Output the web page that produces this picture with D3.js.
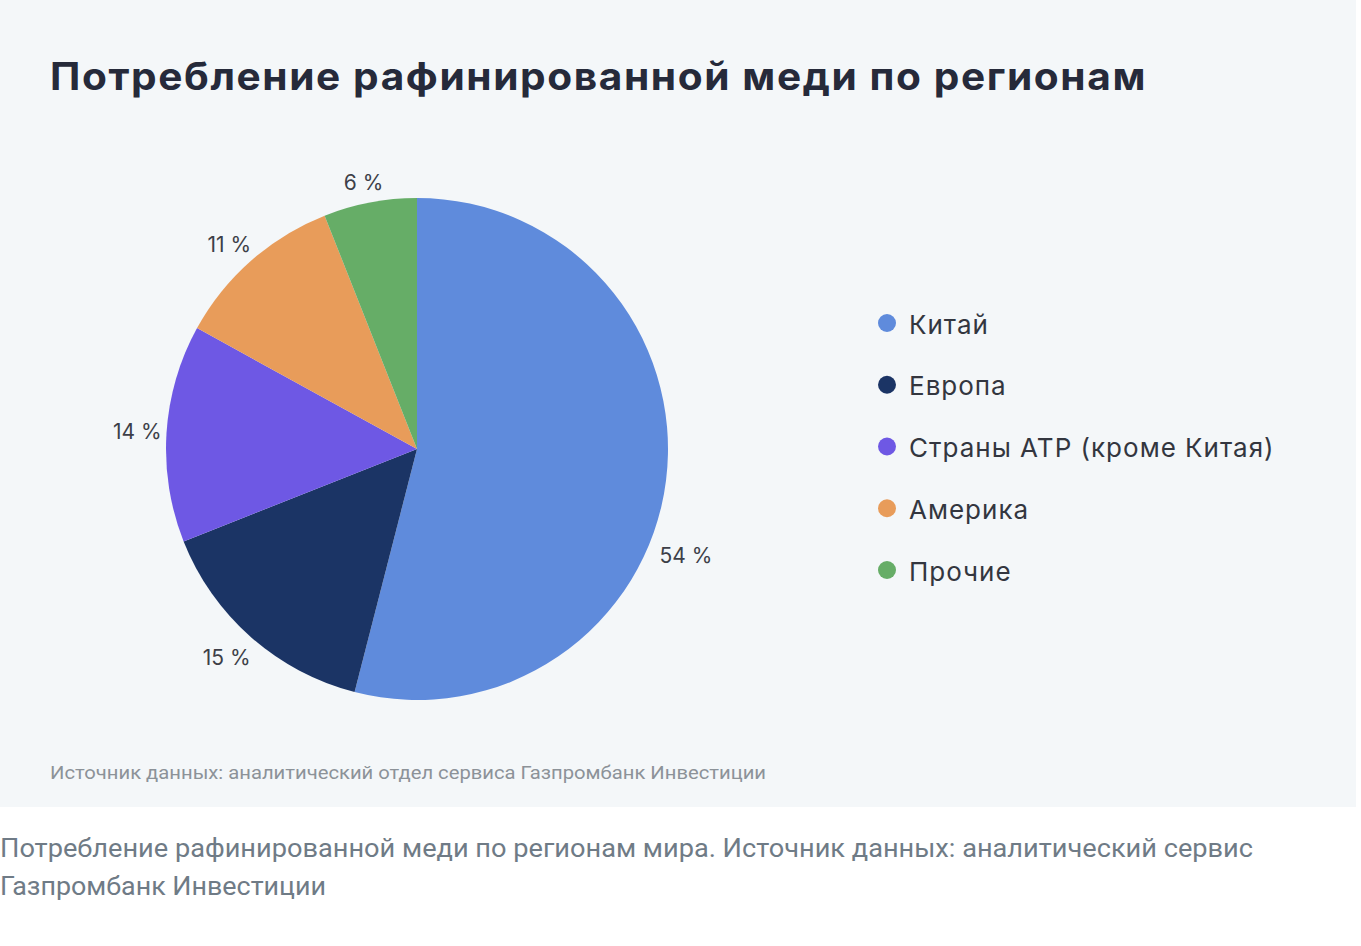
<!DOCTYPE html>
<html><head><meta charset="utf-8">
<script src="https://cdn.jsdelivr.net/npm/d3@7"></script>
<style>html,body{margin:0;padding:0;background:#fff;}svg{display:block;}</style>
</head><body>
<svg id="chart" width="1361" height="946"></svg>
<script>
const categories = ["Китай", "Европа", "Страны АТР (кроме Китая)", "Америка", "Прочие"];
const values = [54, 15, 14, 11, 6];
const colors = ["#5f8bdc", "#1b3465", "#6e58e4", "#e89c5a", "#66ad67"];
const title = "Потребление рафинированной меди по регионам";
const source = "Источник данных: аналитический отдел сервиса Газпромбанк Инвестиции";
const captionLines = ["Потребление рафинированной меди по регионам мира. Источник данных: аналитический сервис", "Газпромбанк Инвестиции"];

const svg = d3.select("#chart");
const font = "Inter, 'Noto Sans', sans-serif";

svg.append("rect").attr("x", 0).attr("y", 0).attr("width", 1356).attr("height", 807).attr("fill", "#f4f7f9");

function fit(sel, w, mode) {
  const n = sel.node();
  const cur = n.getComputedTextLength();
  if (cur > 0) sel.attr("textLength", w).attr("lengthAdjust", mode || "spacingAndGlyphs");
}

const t = svg.append("text").attr("x", 50).attr("y", 90).attr("font-family", font)
  .attr("font-weight", 700).attr("font-size", 38).attr("letter-spacing", 1.5).attr("fill", "#262a3a").text(title);
fit(t, 1097, "spacingAndGlyphs");

const cx = 417, cy = 449, R = 251;
const pie = d3.pie().sort(null).value(d => d)(values);
const arc = d3.arc().innerRadius(0).outerRadius(R);
const g = svg.append("g").attr("transform", `translate(${cx},${cy})`);
g.selectAll("path").data(pie).join("path").attr("d", arc).attr("fill", (d, i) => colors[i]);

// data labels, placed outside along the slice's middle angle
g.selectAll("text.lbl").data(pie).join("text").attr("class", "lbl")
  .each(function (d, i) {
    let a = (d.startAngle + d.endAngle) / 2;
    let lr = R + 29 - 9 * Math.abs(Math.cos(a)) * (Math.cos(a) > 0 ? 1 : 0.4);
    let dx = -14 * Math.abs(Math.sin(a) * Math.cos(a));
    // largest slice: label pushed lower along the rim (as in the original layout)
    if (i === 0) { a += 0.25; lr = R + 38; dx = 0; }
    d3.select(this).attr("x", Math.sin(a) * lr + dx).attr("y", -Math.cos(a) * lr);
  })
  .attr("text-anchor", "middle").attr("dominant-baseline", "central")
  .attr("font-family", font).attr("font-size", 21).attr("fill", "#3d3f48")
  .text(d => d.value + " %");

const leg = svg.append("g").attr("transform", "translate(887,323)");
const ly = d3.scalePoint().domain(categories).range([0, 247]);
const items = leg.selectAll("g").data(categories).join("g").attr("transform", d => `translate(0,${ly(d)})`);
items.append("circle").attr("r", 9).attr("fill", (d, i) => colors[i]);
items.append("text").attr("x", 22).attr("y", 1).attr("dominant-baseline", "central")
  .attr("font-family", font).attr("font-size", 26).attr("letter-spacing", 1).attr("fill", "#33363f").text(d => d);

const s = svg.append("text").attr("x", 50).attr("y", 779).attr("font-family", "Roboto, sans-serif")
  .attr("font-size", 18).attr("fill", "#8c9298").text(source);
fit(s, 716);

captionLines.forEach((c, i) => {
  const ct = svg.append("text").attr("x", 0).attr("y", 857 + i * 38).attr("font-family", "Roboto, sans-serif")
    .attr("font-size", 25).attr("fill", "#6f7b86").text(c);
  if (i === 0) fit(ct, 1253);
  else fit(ct, 326);
});
</script>
</body></html>
